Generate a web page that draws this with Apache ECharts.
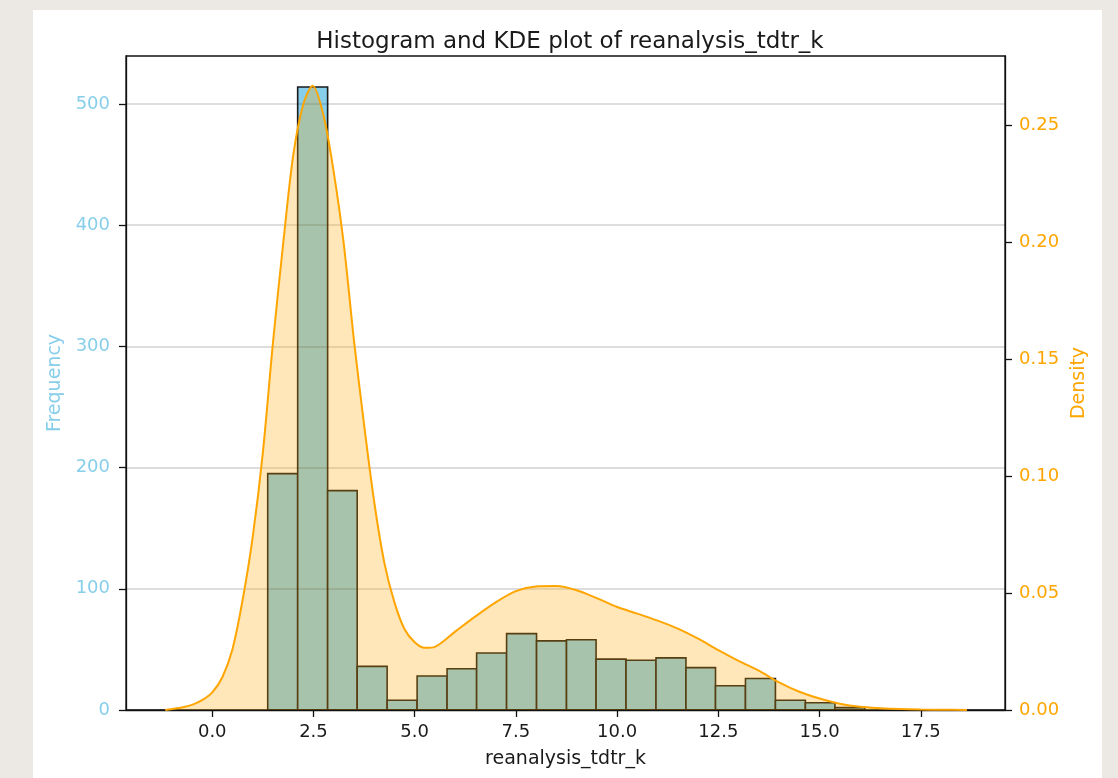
<!DOCTYPE html>
<html>
<head>
<meta charset="utf-8">
<script src="https://cdn.jsdelivr.net/npm/echarts@6/dist/echarts.min.js"></script>
<style>
  html, body { margin: 0; padding: 0; width: 1118px; height: 778px; overflow: hidden; background: #ECE9E4; }
  #paper { position: absolute; left: 33px; top: 10px; width: 1069px; height: 768px; background: #ffffff; }
  #chart { position: absolute; left: 0; top: 0; width: 1118px; height: 778px; }
</style>
</head>
<body>
<div id="paper"></div>
<div id="chart"></div>
<script>
// Histogram bin edges (x) and counts
const binEdges = [1.37, 2.11, 2.85, 3.58, 4.32, 5.06, 5.80, 6.53, 7.27, 8.01, 8.75, 9.48, 10.22, 10.96, 11.70, 12.43, 13.17, 13.91, 14.65, 15.38, 16.12];
const binCounts = [195, 514, 181, 36, 8, 28, 34, 47, 63, 57, 58, 42, 41, 43, 35, 20, 26, 8, 6, 2];

// KDE curve (x, density)
const kdeX = [-1.16, -0.75, -0.5, -0.25, 0.0, 0.25, 0.5, 0.75, 1.0, 1.25, 1.5, 1.75, 2.0, 2.25, 2.48, 2.75, 3.0, 3.25, 3.5, 3.75, 4.0, 4.25, 4.5, 4.75, 5.0, 5.25, 5.5, 6.0, 6.5, 7.0, 7.5, 8.0, 8.5, 9.0, 9.5, 10.0, 10.5, 11.0, 11.5, 12.0, 12.5, 13.0, 13.5, 14.0, 14.5, 15.0, 15.5, 16.0, 16.5, 17.0, 17.5, 18.0, 18.64];
const kdeY = [0.0, 0.0011, 0.0022, 0.0042, 0.0075, 0.014, 0.026, 0.047, 0.074, 0.110, 0.157, 0.199, 0.237, 0.259, 0.2668, 0.254, 0.230, 0.199, 0.158, 0.122, 0.089, 0.063, 0.046, 0.0345, 0.029, 0.0266, 0.027, 0.0335, 0.040, 0.046, 0.0508, 0.0528, 0.053, 0.0512, 0.0478, 0.0440, 0.0412, 0.0382, 0.0348, 0.0305, 0.0256, 0.021, 0.0168, 0.0118, 0.0078, 0.0049, 0.0027, 0.0014, 0.0008, 0.0004, 0.0002, 0.0001, 0.0];

// Tick labels
const xTicks = [0, 2.5, 5, 7.5, 10, 12.5, 15, 17.5];
const freqTicks = [0, 100, 200, 300, 400, 500];
const densTicks = [0, 0.05, 0.10, 0.15, 0.20, 0.25];

const titleText = 'Histogram and KDE plot of reanalysis_tdtr_k';
const xName = 'reanalysis_tdtr_k';
const yLeftName = 'Frequency';
const yRightName = 'Density';

const FONT = 'DejaVu Sans';
const histData = binCounts.map((c, i) => [binEdges[i], binEdges[i + 1], c]);
const kdeData = kdeX.map((x, i) => [x, kdeY[i]]);

const chart = echarts.init(document.getElementById('chart'), null, { renderer: 'canvas' });
chart.setOption({
  animation: false,
  backgroundColor: 'transparent',
  textStyle: { fontFamily: FONT },
  title: {
    text: titleText,
    left: 565, top: 24, textAlign: 'center',
    textStyle: { fontFamily: FONT, fontSize: 23, fontWeight: 'normal', color: '#1a1a1a', lineHeight: 26 }
  },
  grid: { left: 126, right: 113, top: 56, bottom: 68, show: true, borderColor: '#111', borderWidth: 1.3, backgroundColor: 'transparent' },
  xAxis: {
    type: 'value', min: -2.13, max: 19.58,
    name: xName, nameLocation: 'middle', nameGap: 40,
    nameTextStyle: { fontFamily: FONT, fontSize: 19, color: '#1a1a1a' },
    axisLine: { show: true, onZero: false, lineStyle: { color: '#111', width: 1.3 } },
    axisTick: { show: true, length: 7, customValues: xTicks, lineStyle: { color: '#111', width: 1.3 } },
    axisLabel: { customValues: xTicks, margin: 13, fontFamily: FONT, fontSize: 18, color: '#1a1a1a', formatter: v => v.toFixed(1) },
    splitLine: { show: false }
  },
  yAxis: [
    {
      type: 'value', min: 0, max: 539.6, interval: 100, position: 'left',
      name: yLeftName, nameLocation: 'middle', nameGap: 60,
      nameTextStyle: { fontFamily: FONT, fontSize: 19, color: '#87CEEB' },
      axisLine: { show: true, onZero: false, lineStyle: { color: '#111', width: 1.3 } },
      axisTick: { show: true, length: 7, customValues: freqTicks, lineStyle: { color: '#111', width: 1.3 } },
      axisLabel: { customValues: freqTicks, margin: 16, fontFamily: FONT, fontSize: 18, color: '#87CEEB' },
      splitLine: { show: true, lineStyle: { color: 'rgba(0,0,0,0.18)', width: 1.6 } }
    },
    {
      type: 'value', min: 0, max: 0.2795, position: 'right',
      name: yRightName, nameLocation: 'middle', nameGap: 64,
      nameTextStyle: { fontFamily: FONT, fontSize: 19, color: '#FFA500' },
      axisLine: { show: true, onZero: false, lineStyle: { color: '#111', width: 1.3 } },
      axisTick: { show: true, length: 7, customValues: densTicks, lineStyle: { color: '#111', width: 1.3 } },
      axisLabel: { customValues: densTicks, margin: 14, fontFamily: FONT, fontSize: 18, color: '#FFA500', formatter: v => v.toFixed(2) },
      splitLine: { show: false }
    }
  ],
  series: [
    {
      type: 'custom', name: 'hist', xAxisIndex: 0, yAxisIndex: 0, z: -1,
      data: histData,
      encode: { x: [0, 1], y: 2 },
      renderItem: function (params, api) {
        const p0 = api.coord([api.value(0), api.value(2)]);
        const p1 = api.coord([api.value(1), 0]);
        return {
          type: 'rect',
          shape: { x: p0[0], y: p0[1], width: p1[0] - p0[0], height: p1[1] - p0[1] },
          style: { fill: '#87CEEB', stroke: '#1a1a1a', lineWidth: 1.6 }
        };
      }
    },
    {
      type: 'line', name: 'kde', xAxisIndex: 0, yAxisIndex: 1, z: 3,
      data: kdeData, smooth: 0.3, showSymbol: false,
      lineStyle: { color: '#FFA500', width: 2 },
      itemStyle: { color: '#FFA500' },
      areaStyle: { color: '#FFA500', opacity: 0.27, origin: 'start' }
    }
  ]
});
</script>
</body>
</html>
